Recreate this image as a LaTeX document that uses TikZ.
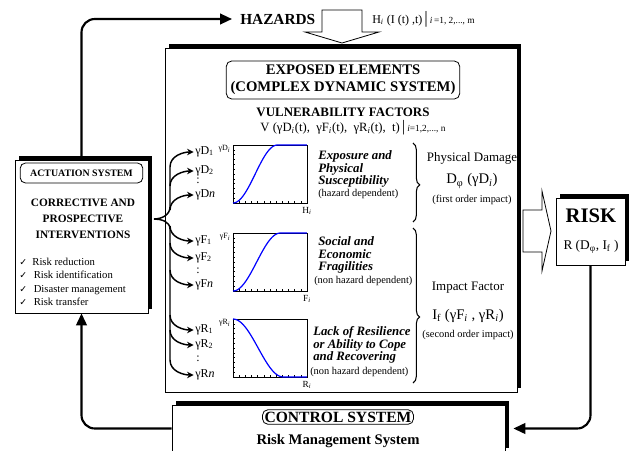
\documentclass[tikz,border=0pt]{standalone}
\usepackage{fontspec}
\setmainfont{Liberation Serif}
\newfontfamily\symfont{DejaVu Sans}
\usetikzlibrary{arrows.meta,shadows,fit,decorations.pathreplacing}

\begin{document}
\begin{tikzpicture}[x=0.75pt,y=-0.75pt]
\tikzset{slab/.style={draw,fill=white,line width=0.6pt,inner sep=0pt,general shadow={fill=black,shadow xshift=3pt,shadow yshift=3pt}}}
\tikzset{titlebox/.style={draw,rounded corners=4pt,line width=0.6pt,align=center,inner sep=2pt}}
\tikzset{loopline/.style={line width=1.6pt,rounded corners=10pt,-{Triangle[length=9pt,width=8pt]}}}
\tikzset{branch/.style={line width=1.1pt,shorten >=1pt,-{Stealth[length=5pt,width=5pt]}}}
\tikzset{vlabel/.style={anchor=west,font=\fontsize{9}{9}\selectfont,inner sep=0pt}}
\tikzset{hint/.style={font=\fontsize{7.8}{8}\selectfont,inner sep=0pt}}
\tikzset{factor/.style={anchor=west,align=left,font=\fontsize{9.6}{9.4}\selectfont\bfseries\itshape,inner sep=0pt}}
\tikzset{curve/.style={blue,line width=0.9pt}}

\path[use as bounding box,clip] (0,0) rectangle (635,450);

\node[slab,fit={(165,48) (517,392)}] (expo) {};
\node[slab,fit={(15,160) (148,313)}] (act) {};
\node[slab,fit={(172,405) (505,452)}] (ctrl) {};
\node[slab,fit={(556,198) (625,265)}] (risk) {};

\node[anchor=west,inner sep=0pt,font=\fontsize{11.5}{12}\selectfont\bfseries] (haz) at (240,19) {HAZARDS};
\node[anchor=west,inner sep=0pt,font=\fontsize{9}{10}\selectfont] (hazf) at (372,19) {H\textsubscript{\itshape i} (I (t) ,t)\,{\fontsize{13}{13}\selectfont|}\,{\fontsize{7}{8}\selectfont\itshape i\upshape\,=1, 2,..., m}};

\coordinate (hin) at (342,43);
\draw[line width=0.6pt,fill=white] (hin) -- ++(-37,-11) -- ++(17,0) -- ++(0,-22) -- ++(40,0) -- ++(0,22) -- ++(17,0) -- cycle;
\coordinate (rin) at (551,231);
\draw[line width=0.6pt,fill=white] (rin) -- ++(-9,-40) -- ++(0,19) -- ++(-19,0) -- ++(0,42) -- ++(19,0) -- ++(0,19) -- cycle;

\node[titlebox,font=\fontsize{11}{13}\selectfont\bfseries,minimum width=175pt,minimum height=28.5pt] (title) at (343,80) {EXPOSED ELEMENTS\\(COMPLEX DYNAMIC SYSTEM)};
\node[font=\fontsize{9.7}{10}\selectfont\bfseries] (vf) at (343,112) {VULNERABILITY FACTORS};
\node[font=\fontsize{9.5}{10}\selectfont] (vfun) at (353,128) {V (γD\textsubscript{\itshape i}(t),\ \ γF\textsubscript{\itshape i}(t),\ \ γR\textsubscript{\itshape i}(t),\ \ t)\,{\fontsize{12}{12}\selectfont|}\,{\fontsize{7}{8}\selectfont\itshape i\upshape =1,2,..., n}};

\node[titlebox,font=\fontsize{7.4}{8}\selectfont\bfseries,minimum width=92pt,minimum height=15pt] (actt) at (81.5,173) {ACTUATION SYSTEM};
\node[font=\fontsize{8.5}{12}\selectfont\bfseries,align=center] (inter) at (83,219) {CORRECTIVE AND\\PROSPECTIVE\\INTERVENTIONS};
\node[anchor=west,align=left,inner sep=0pt,font=\fontsize{8}{10}\selectfont] (todo) at (19,282) {{\symfont\fontsize{7}{7}\selectfont ✓}\hspace{4pt}Risk reduction\\{\symfont\fontsize{7}{7}\selectfont ✓}\hspace{5pt}Risk identification\\{\symfont\fontsize{7}{7}\selectfont ✓}\hspace{5pt}Disaster management\\{\symfont\fontsize{7}{7}\selectfont ✓}\hspace{5pt}Risk transfer};

\node[titlebox,font=\fontsize{11.7}{12}\selectfont\bfseries,inner sep=1.5pt] (ctrlt) at (338,417) {CONTROL SYSTEM};
\node[font=\fontsize{11}{12}\selectfont\bfseries] (rms) at (338,441) {Risk Management System};

\node[font=\fontsize{15.5}{16}\selectfont\bfseries] (riskt) at (591,216) {RISK};
\node[font=\fontsize{10}{11}\selectfont] (riskf) at (591,247) {R (D\textsubscript{φ}, I\textsubscript{f} )};

\foreach \top/\v/\h/\s/\a in {145/D/H/1/0.6, 233/F/F/1/0.64, 319/R/R/-1/0.68} {
  \draw[line width=0.6pt] (233,\top) rectangle (307,\top+58);
  \foreach \k in {1,...,11} {
    \draw[line width=0.3pt] (233,\top+\k*58/12) -- ++(2,0);
    \draw[line width=0.3pt] (233+\k*74/12,\top+58) -- ++(0,-2);
  }
  \draw[curve] plot[domain=0:1,samples=50] ({233+74*\x},{\top+29*(1+\s*cos(180*min(\x/\a,1)))});
  \node[font=\fontsize{6}{6}\selectfont,anchor=east,inner sep=1pt] (ya\v) at (232,\top+4) {γ\v\textsubscript{\itshape i}};
  \node[font=\fontsize{7}{7}\selectfont] (xa\v) at (307,\top+66) {\h\textsubscript{\itshape i}};
}

\foreach \n/\y/\t in {d1/152/{γD\textsubscript{1}}, d2/171/{γD\textsubscript{2}}, dn/195/{γD\textit{n}}, f1/241/{γF\textsubscript{1}}, f2/258/{γF\textsubscript{2}}, fn/285/{γF\textit{n}}, r1/330/{γR\textsubscript{1}}, r2/345/{γR\textsubscript{2}}, rn/375/{γR\textit{n}}}
  \node[vlabel] (\n) at (195,\y) {\t};
\foreach \n/\y in {dd/181, fd/271, rd/359}
  \node[font=\fontsize{9}{9}\selectfont,inner sep=0pt] (\n) at (198,\y) {:};

\coordinate (spine) at (170,0);
\draw[line width=1.1pt] (154,219) to[out=0,in=-90] (170,207) -- (170,167);
\draw[line width=1.1pt] (154,219) to[out=0,in=90] (170,229) -- (170,360);
\foreach \n in {d1,d2,dn}
  \draw[branch] (spine |- \n.west) ++(0,15) to[out=90,in=180] (\n.west);
\foreach \n in {f1,f2,fn,r1,r2,rn}
  \draw[branch] (spine |- \n.west) ++(0,-15) to[out=-90,in=180] (\n.west);

\node[factor] (phys) at (318,169) {Exposure and\\Physical\\Susceptibility};
\node[hint,anchor=west] (physh) at (318,194) {(hazard dependent)};
\node[factor] (soc) at (318,255) {Social and\\Economic\\Fragilities};
\node[hint,anchor=west] (soch) at (314,281) {(non hazard dependent)};
\node[factor] (lack) at (313,345) {Lack of Resilience\\or Ability to Cope\\and Recovering};
\node[hint,anchor=west] (lackh) at (310,372) {(non hazard dependent)};

\draw[line width=0.8pt,decorate,decoration={brace,amplitude=5pt,aspect=0.53}] (413,143) -- (413,222);
\draw[line width=0.8pt,decorate,decoration={brace,amplitude=5pt,aspect=0.574}] (413,228) -- (413,383);

\node[font=\fontsize{9.7}{10}\selectfont] (pd) at (472,158) {Physical Damage};
\node[font=\fontsize{11}{12}\selectfont] (pdf) at (472,181) {D\textsubscript{φ} (γD\textsubscript{\itshape i})};
\node[hint] (pdi) at (472,200) {(first order impact)};
\node[font=\fontsize{9.7}{10}\selectfont] (imp) at (468,288) {Impact Factor};
\node[font=\fontsize{11}{12}\selectfont] (impf) at (468,316) {I\textsubscript{f} (γF\textsubscript{\itshape i} , γR\textsubscript{\itshape i})};
\node[hint] (impi) at (468,335) {(second order impact)};

\draw[loopline,shorten >=6pt] (act.north) |- (haz.west);
\draw[loopline] (ctrl.west) -| (act.south);
\draw[loopline,shorten >=6pt] (risk.south) |- (ctrl.east);

\end{tikzpicture}
\end{document}
